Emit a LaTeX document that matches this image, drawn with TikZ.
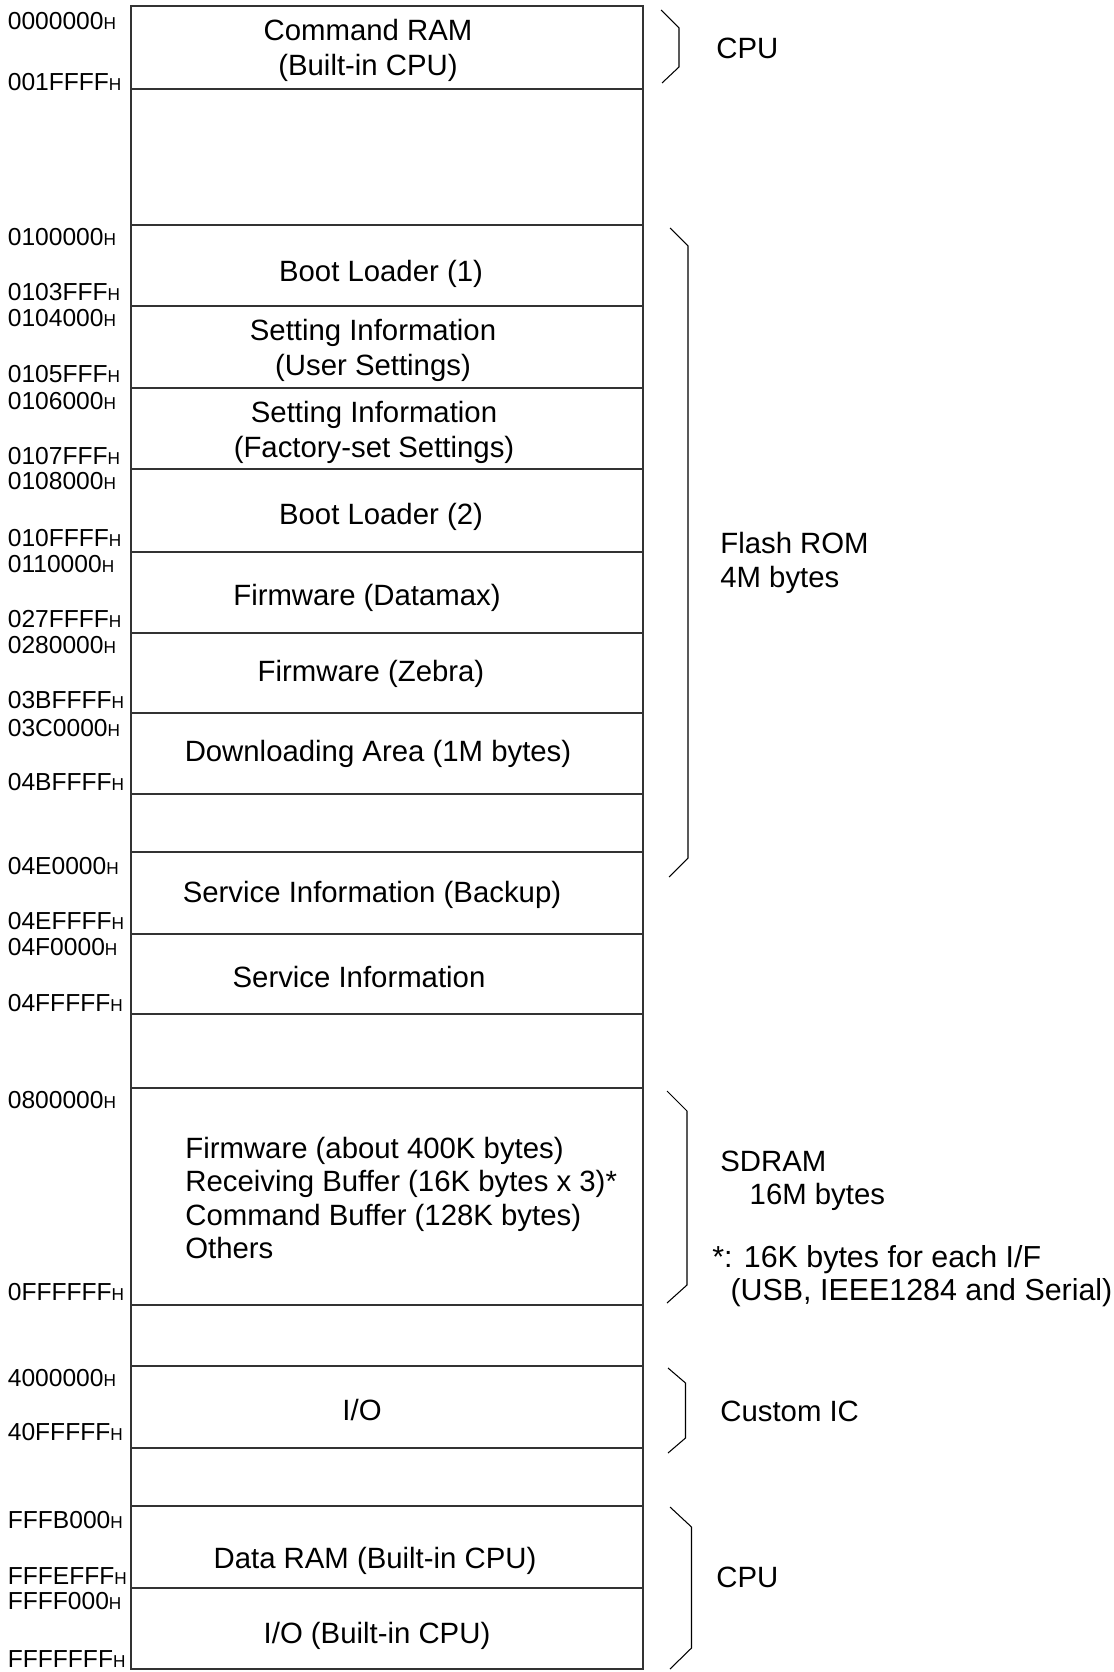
\documentclass[tikz,border=0pt]{standalone}
\usepackage{fontspec}
\setmainfont{Liberation Sans}
\newcommand{\hsuf}{{\fontsize{9.8}{10}\selectfont H}}

\begin{document}
\begin{tikzpicture}[x=0.02cm, y=-0.02cm,
    txt/.style={inner sep=0pt, align=center, font=\fontsize{16.7}{19.5}\selectfont},
    addr/.style={inner sep=0pt, anchor=west, font=\fontsize{14}{16}\selectfont},
    side/.style={inner sep=0pt, anchor=west, align=left, font=\fontsize{16.7}{19}\selectfont},
    brk/.style={line width=0.6pt},
    rowline/.style={line width=0.8pt, black!80}]
    \useasboundingbox (0,0) rectangle (1113,1672);
    \draw[rowline] (131,6) rectangle (643,1669);
    \foreach \y in {89,225,306,388,469,552,633,713,794,852,934,1014,1088,1305,1366,1448,1506,1588}
      \draw[rowline] (131,\y) -- (643,\y);
    \foreach \y/\a [count=\i] in {21/0000000, 82/001FFFF, 237/0100000, 292/0103FFF,
        318/0104000, 374/0105FFF, 401/0106000, 456/0107FFF, 481/0108000, 538/010FFFF,
        564/0110000, 619/027FFFF, 645/0280000, 700/03BFFFF, 728/03C0000, 782/04BFFFF,
        866/04E0000, 921/04EFFFF, 947/04F0000, 1003/04FFFFF, 1100/0800000, 1292/0FFFFFF,
        1378/4000000, 1432/40FFFFF, 1520/FFFB000, 1576/FFFEFFF, 1601/FFFF000, 1659/FFFFFFF}
      \node[addr] (adr\i) at (7.5,\y) {\a\hsuf};
    \node[txt] (cmd) at (368,50.5) {Command RAM\\(Built-in CPU)};
    \node[txt] (boot1) at (381,273.5) {Boot Loader (1)};
    \node[txt] (user) at (373,350.5) {Setting Information\\(User Settings)};
    \node[txt] (fact) at (374,432.5) {Setting Information\\(Factory-set Settings)};
    \node[txt] (boot2) at (381,516.5) {Boot Loader (2)};
    \node[txt] (fwdmx) at (367,597.5) {Firmware (Datamax)};
    \node[txt] (fwzeb) at (371,673.5) {Firmware (Zebra)};
    \node[txt] (down) at (378,753.5) {Downloading Area (1M bytes)};
    \node[txt] (svbak) at (372,894.5) {Service Information (Backup)};
    \node[txt] (svinf) at (359,977) {Service Information};
    \node[side] (sdtxt) at (185,1198) {Firmware (about 400K bytes)\\Receiving Buffer (16K bytes x 3)*\\Command Buffer (128K bytes)\\Others};
    \node[txt] (io) at (362,1410) {I/O};
    \node[txt] (dram) at (375,1560.5) {Data RAM (Built-in CPU)};
    \node[txt] (iocpu) at (377,1636) {I/O (Built-in CPU)};
    \draw[brk] (661,10) -- (679,28) -- (679,67) -- (662,83);
    \draw[brk] (670,228) -- (688,246) -- (688,858) -- (669,877);
    \draw[brk] (667,1091) -- (687,1111) -- (687,1285) -- (667,1303);
    \draw[brk] (668,1368) -- (685.5,1383) -- (685.5,1438) -- (668,1453);
    \draw[brk] (670,1507) -- (691.5,1527) -- (691.5,1648) -- (670,1669);
    \node[side] (cpu1) at (716,48) {CPU};
    \node[side] (flash) at (720,563) {Flash ROM\\4M bytes};
    \node[side] (sdram) at (720,1181) {SDRAM\\\hspace*{1em}16M bytes};
    \node[side, font=\fontsize{17.3}{19}\selectfont] (note) at (712,1276) {*: 16K bytes for each I/F\\\hspace*{0.6em}(USB, IEEE1284 and Serial)};
    \node[side] (cic) at (720,1411) {Custom IC};
    \node[side] (cpu2) at (716,1577) {CPU};
\end{tikzpicture}
\end{document}
